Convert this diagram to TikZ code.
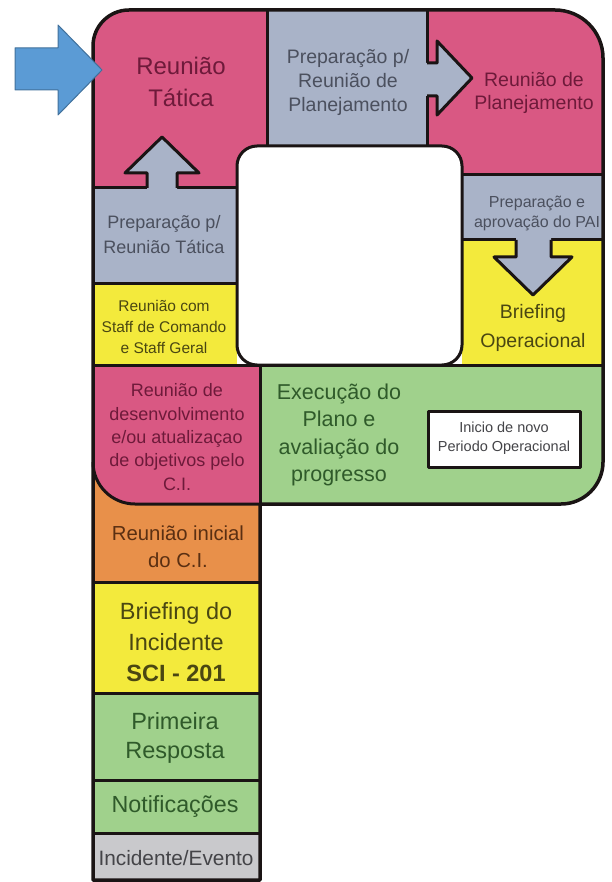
\documentclass[tikz,border=0pt]{standalone}
\usepackage{fontspec}
\setmainfont{Liberation Sans}
\definecolor{pinkfill}{HTML}{D95883}
\definecolor{grayfill}{HTML}{A9B3C8}
\definecolor{yellowfill}{HTML}{F3EA3C}
\definecolor{greenfill}{HTML}{A0D18C}
\definecolor{orangefill}{HTML}{E8904A}
\definecolor{greyfill}{HTML}{C9C9CC}
\definecolor{pinktext}{HTML}{6E1A3A}
\definecolor{graytext}{HTML}{4B505E}
\definecolor{yellowtext}{HTML}{4A4712}
\definecolor{greentext}{HTML}{2F5A2A}
\definecolor{orangetext}{HTML}{5A2F12}
\definecolor{greytext}{HTML}{444448}
\definecolor{linec}{HTML}{1A1414}
\definecolor{bluefill}{HTML}{5B9BD5}
\definecolor{blueline}{HTML}{41719C}
\begin{document}
\begin{tikzpicture}[x=1pt,y=-1pt,line join=round,
  edge/.style={draw=linec,line width=3pt},
  lbl/.style={align=center,inner sep=0pt},
  fs/.style 2 args={font=\fontsize{#1}{#2}\selectfont}]
\useasboundingbox (0,0) rectangle (611,882);

% outline of the "P"
\def\Pshape{(93,880) -- (93,46) .. controls (93,26.1) and (109.1,10) .. (129,10)
  -- (555,10) .. controls (581.5,10) and (603,31.5) .. (603,58)
  -- (603,462) .. controls (603,484.6) and (584.6,504) .. (561,504)
  -- (260,504) -- (260,880) -- cycle}

% coloured stages
\begin{scope}
  \clip \Pshape;
  \fill[pinkfill] (90,5) rectangle (267,188);
  \fill[grayfill] (267,5) rectangle (427,146);
  \fill[pinkfill] (427,5) rectangle (610,175);
  \fill[grayfill] (462,175) rectangle (610,240);
  \fill[yellowfill] (462,240) rectangle (610,365);
  \fill[grayfill] (90,188) rectangle (237,283);
  \fill[yellowfill] (90,283) rectangle (237,365);
  \fill[orangefill] (90,365) rectangle (260,582);
  \fill[pinkfill] (90,365) -- (93,462) .. controls (93,485.2) and (111.8,504) .. (135,504)
     -- (260,504) -- (260,365) -- cycle;
  \fill[greenfill] (260,365) rectangle (610,510);
  \fill[yellowfill] (90,582) rectangle (260,693);
  \fill[greenfill] (90,693) rectangle (260,833);
  \fill[greyfill] (90,833) rectangle (260,885);
\end{scope}

% central opening
\draw[edge,fill=white,rounded corners=20] (237,146) rectangle (462,365);

% dividing lines
\draw[edge] (267,10) -- (267,146);
\draw[edge] (427,10) -- (427,63);
\draw[edge] (427,96) -- (427,146);
\draw[edge] (462,175) -- (603,175);
\draw[edge] (462,240) -- (516,240);
\draw[edge] (551,240) -- (603,240);
\draw[edge] (93,188) -- (147,188);
\draw[edge] (177,188) -- (237,188);
\draw[edge] (93,283) -- (237,283);
\draw[edge] (93,365) -- (603,365);
\draw[edge] (260,365) -- (260,504);
\draw[edge] (93,462) .. controls (93,485.2) and (111.8,504) .. (135,504) -- (260,504);
\draw[edge] (93,582) -- (260,582);
\draw[edge] (93,693) -- (260,693);
\draw[edge] (93,780) -- (260,780);
\draw[edge] (93,833) -- (260,833);

% flow arrows
\fill[grayfill] (425,63) -- (437,63) -- (437,41) -- (472,78) -- (437,115) -- (437,96) -- (425,96) -- cycle;
\draw[edge] (427,63) -- (437,63) -- (437,41) -- (472,78) -- (437,115) -- (437,96) -- (427,96);
\fill[grayfill] (147,190) -- (147,173) -- (125,173) -- (162,137) -- (199,173) -- (177,173) -- (177,190) -- cycle;
\draw[edge] (147,188) -- (147,173) -- (125,173) -- (162,137) -- (199,173) -- (177,173) -- (177,188);
\fill[grayfill] (516,238) -- (516,257) -- (494,257) -- (533,295) -- (572,257) -- (551,257) -- (551,238) -- cycle;
\draw[edge] (516,240) -- (516,257) -- (494,257) -- (533,295) -- (572,257) -- (551,257) -- (551,240);

% outer border
\draw[edge,line width=3.5pt] \Pshape;

% new operational period box
\draw[edge,fill=white] (428,411) rectangle (580,467);

% entry arrow
\draw[fill=bluefill,draw=blueline,line width=1pt]
  (15,48) -- (58,48) -- (58,25) -- (102,70) -- (58,115) -- (58,90) -- (15,90) -- cycle;

% labels
\node[lbl,fs={24}{32},text=pinktext] (rt) at (181,82) {Reunião\\Tática};
\node[lbl,fs={19.5}{24},text=graytext] (prp) at (348,82) {Preparação p/\\Reunião de\\Planejamento};
\node[lbl,fs={19.5}{22.5},text=pinktext] (rp) at (534,93) {Reunião de\\Planejamento};
\node[lbl,fs={18}{25},text=graytext] (prt) at (164,235) {Preparação p/\\Reunião Tática};
\node[lbl,fs={15.5}{21},text=yellowtext] (rsc) at (164,327) {Reunião com\\Staff de Comando\\e Staff Geral};
\node[lbl,fs={16}{20},text=graytext] (pap) at (537,213) {Preparação e\\aprovação do PAI};
\node[lbl,fs={19.5}{29},text=yellowtext] (bo) at (533,328) {Briefing\\Operacional};
\node[lbl,fs={18}{23.3},text=pinktext] (rd) at (177,437) {Reunião de\\desenvolvimento\\e/ou atualizaçao\\de objetivos pelo\\C.I.};
\node[lbl,fs={21.5}{27.5},text=greentext] (ex) at (339,435) {Execução do\\Plano e\\avaliação do\\progresso};
\node[lbl,fs={14.5}{19.5},text=greytext] (np) at (504,438) {Inicio de novo\\Periodo Operacional};
\node[lbl,fs={20.3}{27},text=orangetext] (ri) at (178,547) {Reunião inicial\\do C.I.};
\node[lbl,fs={23.5}{31},text=yellowtext] (bi) at (176,642) {Briefing do\\Incidente\\\textbf{SCI - 201}};
\node[lbl,fs={23.5}{29},text=greentext] (pr) at (175,738) {Primeira\\Resposta};
\node[lbl,fs={23.3}{28},text=greentext] (no) at (175,807) {Notificações};
\node[lbl,fs={20.8}{25},text=greytext] (ie) at (176,858) {Incidente/Evento};
\end{tikzpicture}
\end{document}
